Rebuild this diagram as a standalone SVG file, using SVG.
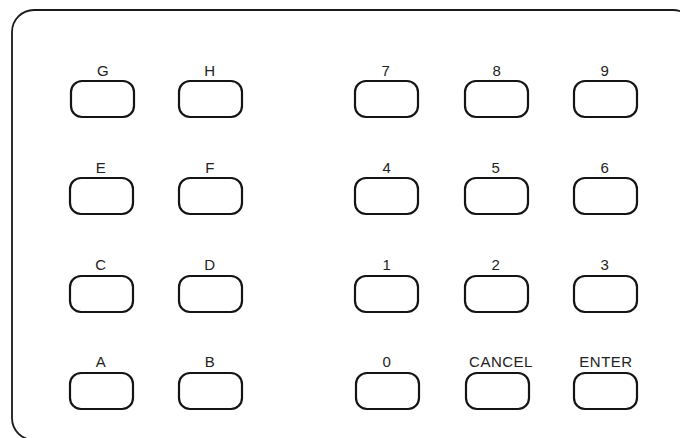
<svg xmlns="http://www.w3.org/2000/svg" width="680" height="438" viewBox="0 0 680 438">
<style>
.frame{fill:none;stroke:#1a1a1a;stroke-width:1.8}
.key{fill:#fff;stroke:#141414;stroke-width:2.2}
.lbl{font-family:"Liberation Sans",Arial,sans-serif;font-size:15px;fill:#222;text-anchor:middle;letter-spacing:0.5px}
</style>
<rect width="680" height="438" fill="#fff"/>
<rect class="frame" x="12" y="10" width="683" height="430" rx="22" ry="22"/>
<defs>
<rect id="k" class="key" x="0" y="0" width="63" height="36" rx="11" ry="11"/>
</defs>
<g id="key-G"><use href="#k" x="71" y="81"/><text class="lbl" x="103" y="76">G</text></g>
<g id="key-H"><use href="#k" x="179" y="81"/><text class="lbl" x="210" y="76">H</text></g>
<g id="key-7"><use href="#k" x="355" y="81"/><text class="lbl" x="386" y="76">7</text></g>
<g id="key-8"><use href="#k" x="465" y="81"/><text class="lbl" x="497" y="76">8</text></g>
<g id="key-9"><use href="#k" x="574" y="81"/><text class="lbl" x="605" y="76">9</text></g>
<g id="key-E"><use href="#k" x="70" y="178"/><text class="lbl" x="101" y="173">E</text></g>
<g id="key-F"><use href="#k" x="179" y="178"/><text class="lbl" x="210" y="173">F</text></g>
<g id="key-4"><use href="#k" x="355" y="178"/><text class="lbl" x="387" y="173">4</text></g>
<g id="key-5"><use href="#k" x="465" y="178"/><text class="lbl" x="496" y="173">5</text></g>
<g id="key-6"><use href="#k" x="574" y="178"/><text class="lbl" x="605" y="173">6</text></g>
<g id="key-C"><use href="#k" x="70" y="276"/><text class="lbl" x="101" y="270">C</text></g>
<g id="key-D"><use href="#k" x="179" y="276"/><text class="lbl" x="210" y="270">D</text></g>
<g id="key-1"><use href="#k" x="355" y="276"/><text class="lbl" x="387" y="270">1</text></g>
<g id="key-2"><use href="#k" x="465" y="276"/><text class="lbl" x="496" y="270">2</text></g>
<g id="key-3"><use href="#k" x="574" y="276"/><text class="lbl" x="605" y="270">3</text></g>
<g id="key-A"><use href="#k" x="70" y="373"/><text class="lbl" x="101" y="367">A</text></g>
<g id="key-B"><use href="#k" x="179" y="373"/><text class="lbl" x="210" y="367">B</text></g>
<g id="key-0"><use href="#k" x="356" y="373"/><text class="lbl" x="387" y="367">0</text></g>
<g id="key-CANCEL"><use href="#k" x="466" y="373"/><text class="lbl" x="501" y="367">CANCEL</text></g>
<g id="key-ENTER"><use href="#k" x="574" y="373"/><text class="lbl" x="606" y="367">ENTER</text></g>
<g id="connectors"></g>
</svg>
